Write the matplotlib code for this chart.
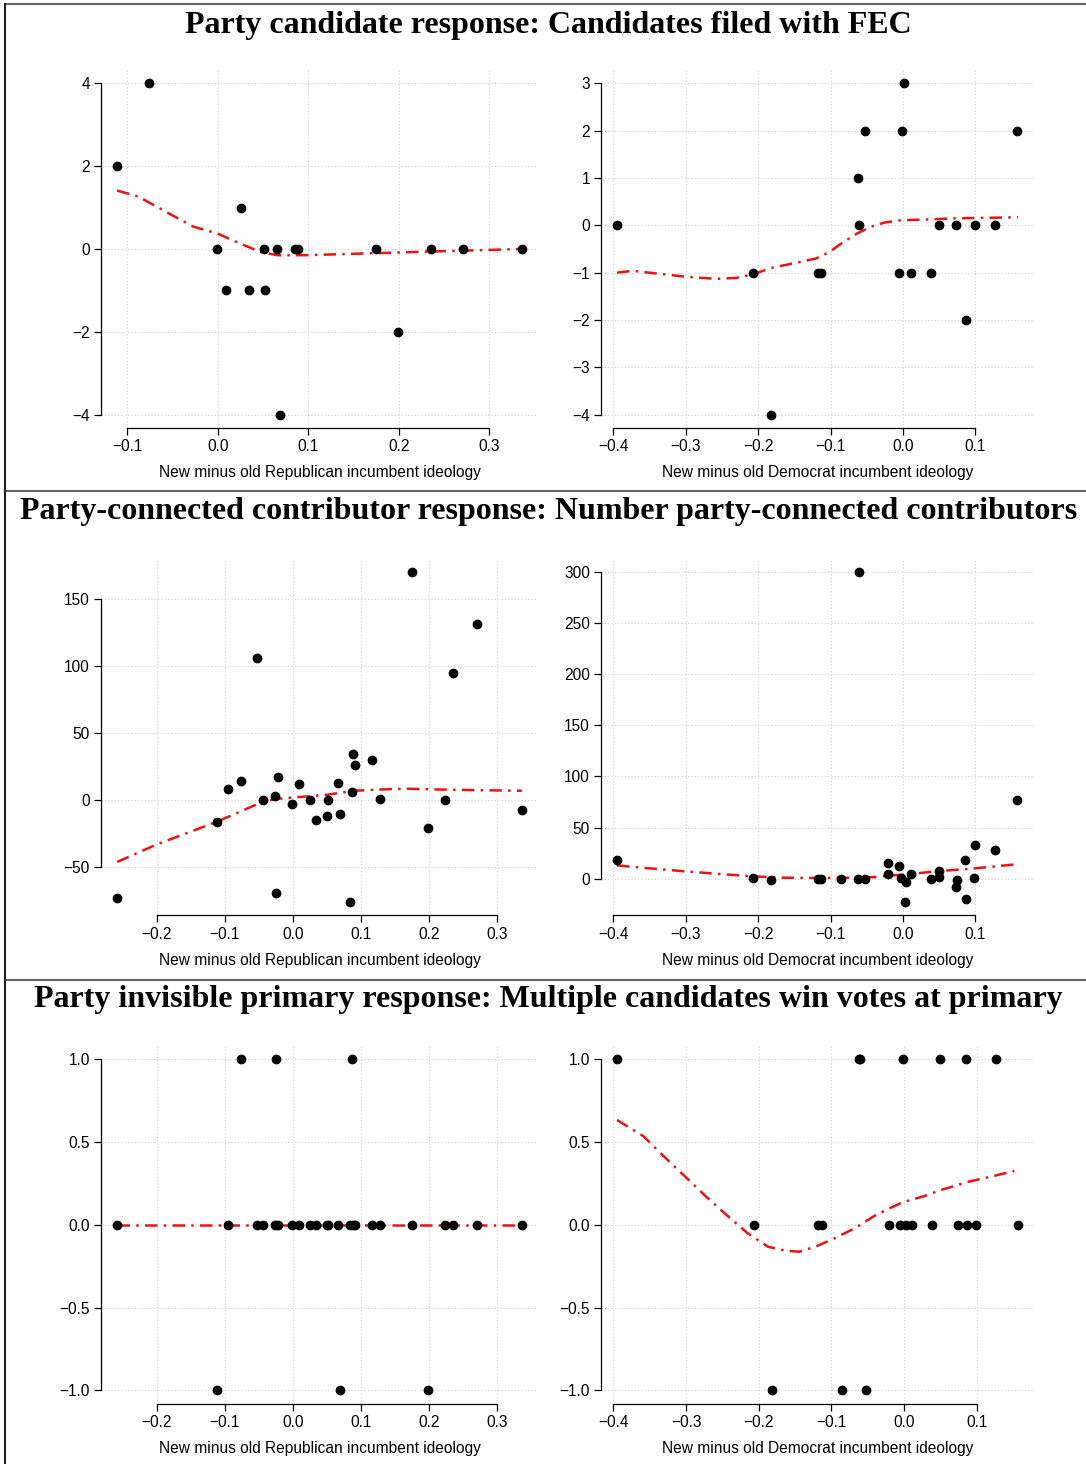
import matplotlib
matplotlib.use("Agg")
import matplotlib.pyplot as plt
from matplotlib.lines import Line2D
from matplotlib.ticker import MultipleLocator

# ---- data ----
row_titles = [
    "Party candidate response: Candidates filed with FEC",
    "Party-connected contributor response: Number party-connected contributors",
    "Party invisible primary response: Multiple candidates win votes at primary",
]
rep_label = "New minus old Republican incumbent ideology"
dem_label = "New minus old Democrat incumbent ideology"

# row 1: candidates filed with FEC
rep_fec_x = [-0.111, -0.076, -0.001, 0.009, 0.026, 0.035, 0.051, 0.052, 0.066,
             0.069, 0.085, 0.089, 0.175, 0.199, 0.236, 0.271, 0.336]
rep_fec_y = [2, 4, 0, -1, 1, -1, 0, -1, 0, -4, 0, 0, 0, -2, 0, 0, 0]
rep_fec_fit_x = [-0.111, -0.088, -0.054, -0.027, -0.001, 0.024, 0.047, 0.066,
                 0.097, 0.128, 0.175, 0.221, 0.271, 0.336]
rep_fec_fit_y = [1.41, 1.27, 0.86, 0.54, 0.38, 0.14, -0.07, -0.15,
                 -0.15, -0.13, -0.10, -0.07, -0.04, 0.0]

dem_fec_x = [-0.395, -0.207, -0.182, -0.118, -0.113, -0.062, -0.061, -0.052,
             -0.006, -0.001, 0.002, 0.011, 0.039, 0.050, 0.074, 0.087, 0.099,
             0.127, 0.157]
dem_fec_y = [0, -1, -4, -1, -1, 1, 0, 2, -1, 2, 3, -1, -1, 0, 0, -2, 0, 0, 2]
dem_fec_fit_x = [-0.395, -0.373, -0.339, -0.297, -0.258, -0.230, -0.206, -0.182,
                 -0.144, -0.120, -0.101, -0.082, -0.063, -0.044, -0.025, -0.001,
                 0.028, 0.075, 0.123, 0.159]
dem_fec_fit_y = [-1.00, -0.96, -1.02, -1.09, -1.13, -1.11, -1.03, -0.90,
                 -0.78, -0.70, -0.56, -0.35, -0.17, -0.03, 0.06, 0.11,
                 0.12, 0.15, 0.16, 0.17]

# rows 2 and 3 share the Republican districts
rep_x = [-0.258, -0.111, -0.095, -0.076, -0.053, -0.043, -0.026, -0.024, -0.022,
         -0.001, 0.010, 0.026, 0.035, 0.051, 0.052, 0.066, 0.069, 0.085, 0.088,
         0.089, 0.091, 0.117, 0.129, 0.175, 0.199, 0.224, 0.236, 0.271, 0.337]
rep_contrib_y = [-73, -16, 8, 14, 106, 0, 3, -69, 17, -3, 12, 0, -15, -12, 0, 13,
                 -10, -76, 6, 34, 26, 30, 1, 170, -21, 0, 95, 131, -7]
rep_contrib_fit_x = [-0.258, -0.200, -0.111, -0.043, -0.022, 0.014, 0.050, 0.091,
                     0.132, 0.168, 0.209, 0.260, 0.337]
rep_contrib_fit_y = [-46, -33, -16, -1, 1, 2.5, 4, 7, 8, 8.5, 8, 7.5, 7]

rep_primary_y = [0, -1, 0, 1, 0, 0, 0, 1, 0, 0, 0, 0, 0, 0, 0, 0, -1, 0, 1, 0,
                 0, 0, 0, 0, -1, 0, 0, 0, 0]
rep_primary_fit_x = [-0.258, -0.1, 0.0, 0.1, 0.2, 0.337]
rep_primary_fit_y = [0, 0, 0, 0, 0, 0]

dem_contrib_x = [-0.395, -0.207, -0.182, -0.118, -0.113, -0.085, -0.062, -0.061,
                 -0.052, -0.021, -0.021, -0.006, -0.002, 0.003, 0.004, 0.011,
                 0.039, 0.050, 0.050, 0.075, 0.074, 0.086, 0.087, 0.099, 0.098,
                 0.127, 0.157]
dem_contrib_y = [18, 1, -1, 0, 0, 0, 0, 300, 0, 15, 5, 12, 1, -23, -3, 5, 0, 8,
                 2, -1, -8, 18, -20, 33, 1, 28, 77]
dem_contrib_fit_x = [-0.395, -0.354, -0.306, -0.258, -0.206, -0.163, -0.115,
                     -0.068, -0.039, -0.020, 0.004, 0.028, 0.051, 0.099, 0.159]
dem_contrib_fit_y = [13, 10.4, 7.5, 4.9, 2.3, 1.0, 0.7, 1.0, 1.6, 2.9, 4.2, 5.9,
                     7.5, 10.1, 14.3]

dem_primary_x = [-0.395, -0.207, -0.182, -0.118, -0.113, -0.085, -0.062, -0.061,
                 -0.052, -0.021, -0.006, -0.001, 0.003, 0.011, 0.039, 0.050,
                 0.074, 0.086, 0.087, 0.099, 0.127, 0.157]
dem_primary_y = [1, 0, -1, 0, 0, -1, 1, 1, -1, 0, 0, 1, 0, 0, 0, 1, 0, 1, 0, 0,
                 1, 0]
dem_primary_fit_x = [-0.395, -0.359, -0.330, -0.301, -0.273, -0.244, -0.215,
                     -0.187, -0.163, -0.144, -0.120, -0.096, -0.068, -0.039,
                     -0.020, -0.001, 0.028, 0.051, 0.089, 0.123, 0.152]
dem_primary_fit_y = [0.633, 0.536, 0.411, 0.29, 0.173, 0.058, -0.052, -0.133,
                     -0.157, -0.163, -0.129, -0.083, -0.022, 0.058, 0.099, 0.137,
                     0.173, 0.21, 0.26, 0.294, 0.325]

# ---- layout (pixels) ----
W, H = 1086, 1464
plt.rcParams["font.family"] = ["Liberation Sans", "DejaVu Sans"]
fig = plt.figure(figsize=(W / 100, H / 100), dpi=100)


def px_axes(left, top, right, bottom):
    return fig.add_axes([left / W, 1 - bottom / H, (right - left) / W,
                         (bottom - top) / H])


def panel(ax, x, y, fit_x, fit_y, xstep, ystep, xlabel):
    ax.plot(fit_x, fit_y, color="#ee1111", lw=1.8,
            linestyle=(0, (5, 2.5, 1, 2.5)), zorder=2)
    ax.plot(x, y, "o", color="black", ms=6, zorder=3)
    ax.margins(0.04)
    ax.autoscale_view()
    x0, x1 = ax.get_xlim()
    y0, y1 = ax.get_ylim()
    ax.set_xlim(x0, x1)
    ax.set_ylim(y0, y1)
    xt = [t for t in MultipleLocator(xstep).tick_values(x0, x1) if x0 <= t <= x1]
    yt = [t for t in MultipleLocator(ystep).tick_values(y0, y1) if y0 <= t <= y1]
    ax.set_xticks(xt)
    ax.set_yticks(yt)
    ax.grid(True, color="#cfcfcf", linestyle=(0, (1, 2)), lw=0.8)
    ax.set_axisbelow(True)
    for s in ("top", "right"):
        ax.spines[s].set_visible(False)
    ax.spines["left"].set_bounds(yt[0], yt[-1])
    ax.spines["bottom"].set_bounds(xt[0], xt[-1])
    for s in ("left", "bottom"):
        ax.spines[s].set_linewidth(0.9)
    ax.tick_params(length=5, width=0.9, pad=3, labelsize=11.2, colors="black")
    ax.set_xlabel(xlabel, fontsize=11.2, labelpad=8)


rows = [
    (70, 428, (rep_fec_x, rep_fec_y, rep_fec_fit_x, rep_fec_fit_y, 0.1, 2),
     (dem_fec_x, dem_fec_y, dem_fec_fit_x, dem_fec_fit_y, 0.1, 1)),
    (558.5, 915.5, (rep_x, rep_contrib_y, rep_contrib_fit_x, rep_contrib_fit_y, 0.1, 50),
     (dem_contrib_x, dem_contrib_y, dem_contrib_fit_x, dem_contrib_fit_y, 0.1, 50)),
    (1046, 1403.5, (rep_x, rep_primary_y, rep_primary_fit_x, rep_primary_fit_y, 0.1, 0.5),
     (dem_primary_x, dem_primary_y, dem_primary_fit_x, dem_primary_fit_y, 0.1, 0.5)),
]

for top, bottom, rep, dem in rows:
    panel(px_axes(101, top, 538, bottom), *rep, rep_label)
    panel(px_axes(601, top, 1034, bottom), *dem, dem_label)

# row frames and titles
frame_tops = [4, 491, 980]
title_baselines = [33, 519, 1007]
for yt_, title, yb in zip(frame_tops, row_titles, title_baselines):
    fig.add_artist(Line2D([5 / W, 1], [1 - yt_ / H, 1 - yt_ / H],
                          transform=fig.transFigure, color="#666666", lw=1.5))
    fig.text(548.5 / W, 1 - yb / H, title, ha="center", va="baseline",
             fontsize=23, weight="bold", family=["Liberation Serif", "DejaVu Serif"])
fig.add_artist(Line2D([5 / W, 5 / W], [1 - 4 / H, 0], transform=fig.transFigure,
                      color="#222222", lw=1.5))

fig.savefig("out.png", dpi=100)
